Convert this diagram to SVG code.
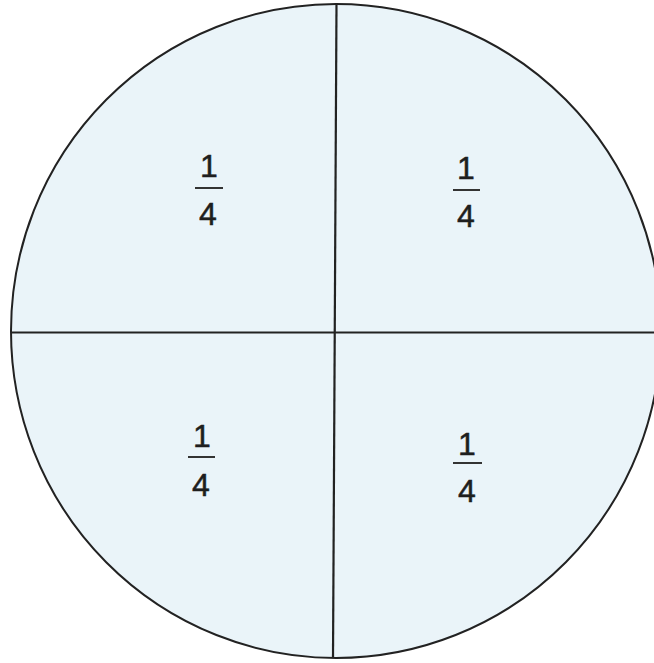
<svg xmlns="http://www.w3.org/2000/svg" width="654" height="663" viewBox="0 0 654 663">
<style>
.c{fill:#eaf4f9;stroke:#222;stroke-width:2}
.l{stroke:#222;stroke-width:2.2;fill:none}
.t{font-family:"Liberation Sans",Arial,sans-serif;font-size:32px;fill:#1e1e1e;stroke:#1e1e1e;stroke-width:0.5;text-anchor:middle}
.b{stroke:#333;stroke-width:2}
</style>
<rect width="654" height="663" fill="#ffffff"/>
<g id="circle"><ellipse class="c" cx="336" cy="331" rx="325" ry="327"/></g>
<g id="connectors">
<line class="l" x1="336.5" y1="4" x2="333" y2="658"/>
<line class="l" x1="11" y1="332.5" x2="661" y2="332.5"/>
</g>
<g id="q1"><text class="t" x="209" y="177">1</text><line class="b" x1="195" y1="188" x2="223" y2="188"/><text class="t" x="208" y="225">4</text></g>
<g id="q2"><text class="t" x="466" y="179">1</text><line class="b" x1="453" y1="190" x2="480" y2="190"/><text class="t" x="466" y="227">4</text></g>
<g id="q3"><text class="t" x="202" y="447">1</text><line class="b" x1="188" y1="457" x2="215" y2="457"/><text class="t" x="201" y="496">4</text></g>
<g id="q4"><text class="t" x="467" y="455">1</text><line class="b" x1="453" y1="463" x2="482" y2="463"/><text class="t" x="467" y="502">4</text></g>
</svg>
